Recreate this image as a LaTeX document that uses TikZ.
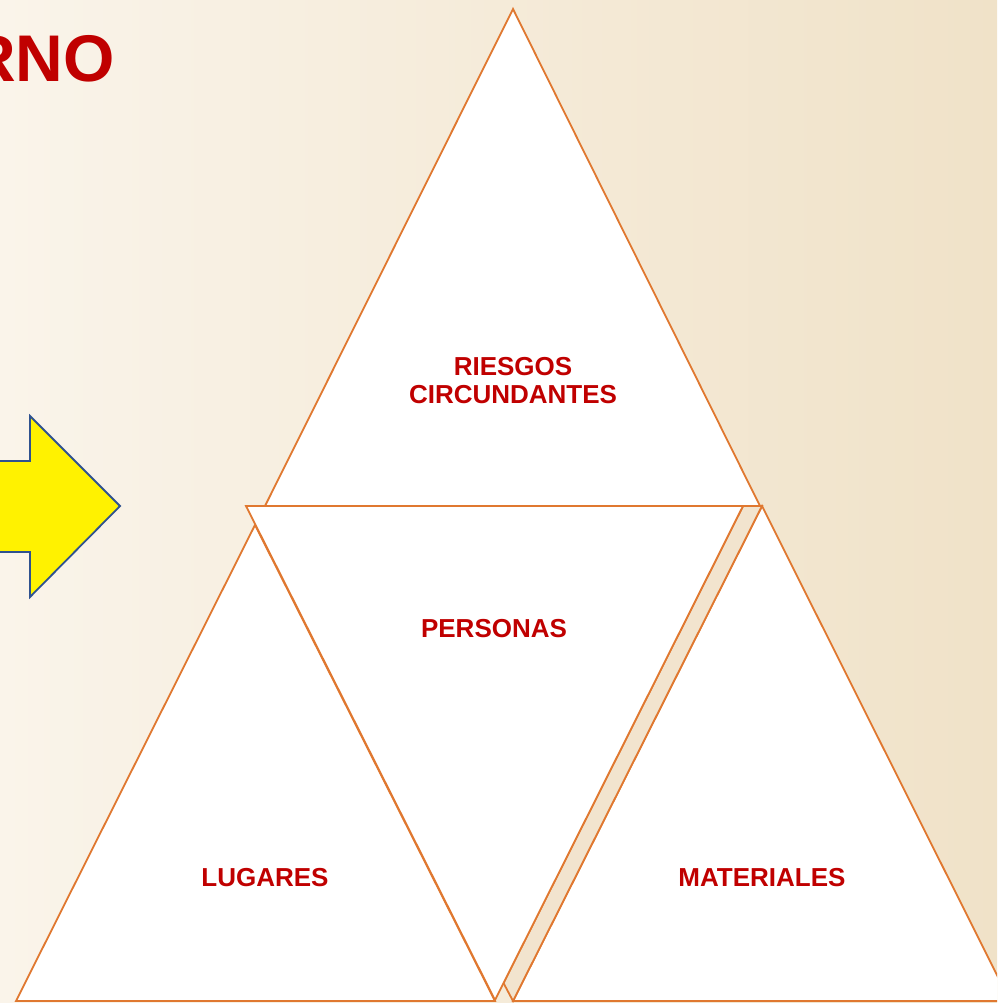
\documentclass[tikz,border=0pt]{standalone}
\usepackage{fontspec}
\setmainfont{Liberation Sans}
\definecolor{bgL}{RGB}{250,244,234}
\definecolor{bgR}{RGB}{240,226,200}
\definecolor{triorange}{RGB}{224,120,48}
\definecolor{lblred}{RGB}{192,0,0}
\definecolor{arrblue}{RGB}{47,82,143}
\definecolor{striptan}{RGB}{242,228,206}
\begin{document}
\begin{tikzpicture}[x=1pt,y=-1pt,
  tri/.style={draw=triorange, line width=1.8pt, fill=white, line join=miter},
  lbl/.style={text=lblred, font=\bfseries\fontsize{26}{28}\selectfont, align=center, inner sep=0pt},
  bigarrow/.style={draw=arrblue, line width=1.8pt, fill=yellow, line join=miter}]
\path[use as bounding box] (0,0) rectangle (997,1003);
\clip (0,0) rectangle (997,1003);
\shade[left color=bgL, right color=bgR] (0,0) rectangle (997,1003);
% title
\node[anchor=base east, text=lblred, font=\bfseries\fontsize{66}{70}\selectfont, inner sep=0pt] (title) at (115,82) {RNO};
% arrow
\draw[bigarrow] (-10,461) -- (30,461) -- (30,416) -- (120,506) -- (30,597) -- (30,552) -- (-10,552);
% triangles
\coordinate (tA) at (513,9);
\coordinate (tL) at (265,506);
\coordinate (tR) at (760,506);
\draw[tri] (tA) -- (tL) -- (tR) -- cycle;
\coordinate (lA) at (255,525);
\coordinate (lL) at (16,1001);
\coordinate (lR) at (495,1001);
\draw[tri] (lA) -- (lL) -- (lR) -- cycle;
\coordinate (rA) at (762,506);
\coordinate (rL) at (513,1001);
\coordinate (rR) at (1010,1001);
\draw[tri] (rA) -- (rL) -- (rR) -- cycle;
\coordinate (iL) at (246,506);
\coordinate (iR) at (743,506);
\coordinate (iB) at (495,1000);
\coordinate (sB) at (503.5,983);
\draw[tri, fill=striptan] (iR) -- (rA) -- (rL) -- (sB) -- cycle;
\draw[tri] (iL) -- (iR) -- (iB) -- cycle;
% labels
\node[lbl] (riesgos) at (513,381) {RIESGOS\\CIRCUNDANTES};
\node[lbl] (personas) at (494,629) {PERSONAS};
\node[lbl] (lugares) at (265,878) {LUGARES};
\node[lbl] (materiales) at (762,878) {MATERIALES};
\end{tikzpicture}
\end{document}
